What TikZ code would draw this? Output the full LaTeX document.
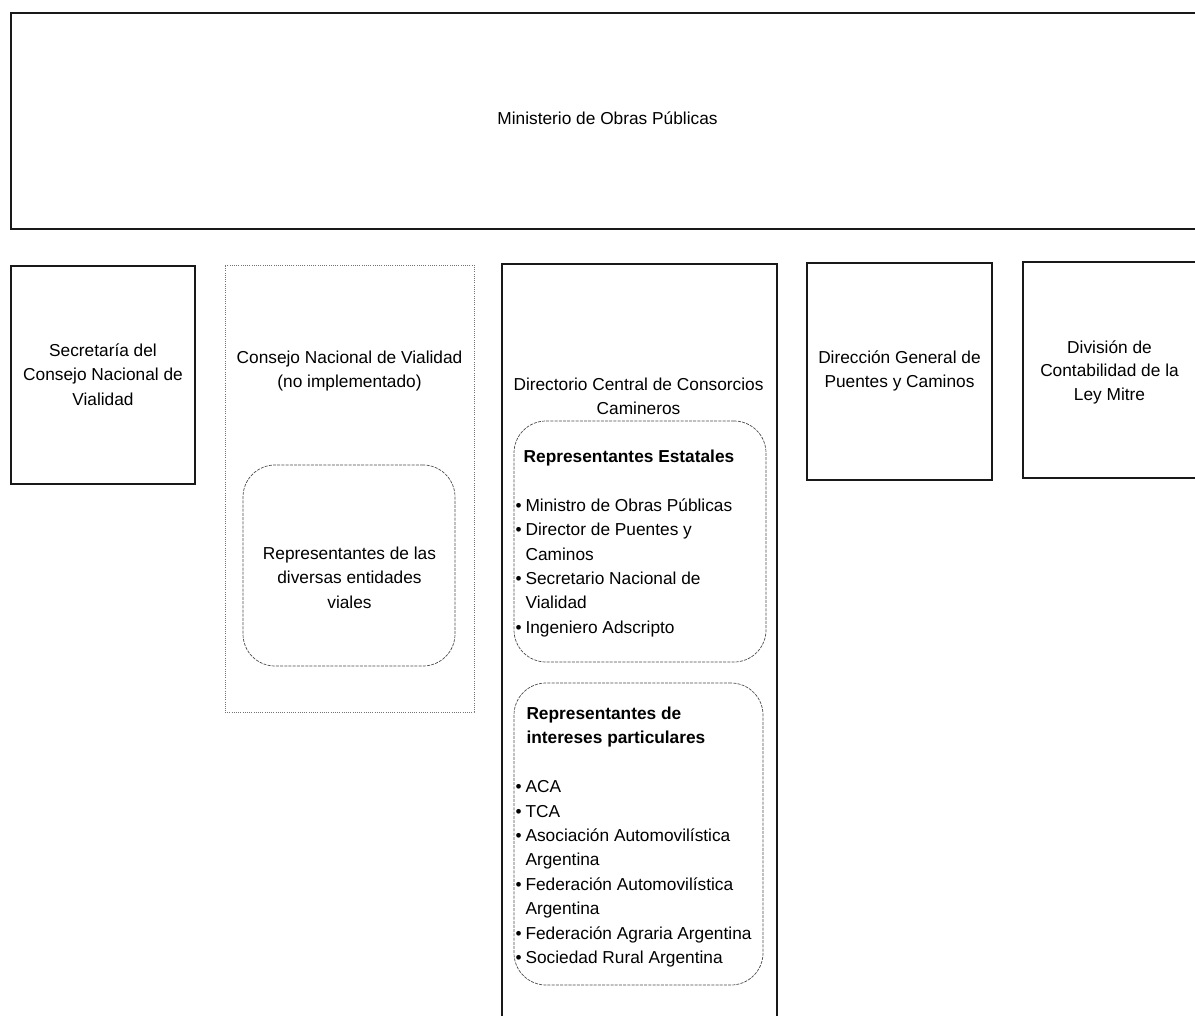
\documentclass[tikz,border=0pt]{standalone}
\usepackage{fontspec}
\setmainfont{Liberation Sans}
\newcommand{\ctab}[1]{\begin{tabular}{@{}c@{}}#1\end{tabular}}
\tikzset{
  area/.style={inner sep=0pt, outer sep=0pt},
  solidline/.style={draw=black!90, line width=1.1pt},
  solidbox/.style={area, solidline},
  dotbox/.style={area, draw=black!55, line width=0.6pt, dash pattern=on 1pt off 1.2pt},
  roundbox/.style={area, draw=black!70, line width=0.7pt, dash pattern=on 3pt off 1.2pt, rounded corners=32pt},
  txt/.style={inner sep=0pt, outer sep=0pt, anchor=north, font=\fontsize{17.3}{24.4}\selectfont},
  lst/.style={txt, anchor=north west}
}
\begin{document}
\begin{tikzpicture}[x=1pt, y=-1pt]
\useasboundingbox (0,0) rectangle (1195,1016);
% Ministerio (open on the right)
\node[area, minimum width=1184pt, minimum height=216pt] (mop) at (603,121) {};
\draw[solidline] (mop.north east) -- (mop.north west) -- (mop.south west) -- (mop.south east);
\node[txt] (mopt) at (607.5,107.4) {\ctab{Ministerio de Obras Públicas}};
% Secretaria
\node[solidbox, minimum width=184pt, minimum height=218pt] (sec) at (103,375) {};
\node[txt] (sect) at (103,339.4) {\ctab{Secretaría del\\Consejo Nacional de\\Vialidad}};
% Consejo
\node[dotbox, minimum width=249pt, minimum height=447pt] (cnv) at (349.5,488.5) {};
\node[txt] (cnvt) at (349.5,346.4) {\ctab{Consejo Nacional de Vialidad\\(no implementado)}};
\node[roundbox, minimum width=212pt, minimum height=201pt] (cnvin) at (349,565.5) {};
\node[txt] (cnvint) at (349.5,542.4) {\ctab{Representantes de las\\diversas entidades\\viales}};
% Directorio (open at the bottom)
\node[area, minimum width=275pt, minimum height=752pt] (dir) at (639.5,640) {};
\draw[solidline] (dir.south west) -- (dir.north west) -- (dir.north east) -- (dir.south east);
\node[txt] (dirt) at (638.5,373.4) {\ctab{Directorio Central de Consorcios\\Camineros}};
\node[roundbox, minimum width=252pt, minimum height=241pt] (est) at (640,541.5) {};
\node[lst] (estt) at (515.5,445.4) {\begin{tabular}{@{}l@{\hspace{4pt}}l@{}}
\multicolumn{2}{@{\hspace{8.2pt}}l@{}}{\bfseries Representantes Estatales}\\
&\\
•&Ministro de Obras Públicas\\
•&Director de Puentes y\\
&Caminos\\
•&Secretario Nacional de\\
&Vialidad\\
•&Ingeniero Adscripto
\end{tabular}};
\node[roundbox, minimum width=249pt, minimum height=302pt] (par) at (638.5,834) {};
\node[lst] (part) at (515.5,702.4) {\begin{tabular}{@{}l@{\hspace{4pt}}l@{}}
\multicolumn{2}{@{\hspace{11pt}}l@{}}{\bfseries Representantes de}\\
\multicolumn{2}{@{\hspace{11pt}}l@{}}{\bfseries intereses particulares}\\
&\\
•&ACA\\
•&TCA\\
•&Asociación Automovilística\\
&Argentina\\
•&Federación Automovilística\\
&Argentina\\
•&Federación Agraria Argentina\\
•&Sociedad Rural Argentina
\end{tabular}};
% Direccion General
\node[solidbox, minimum width=185pt, minimum height=217pt] (dg) at (899.5,371.5) {};
\node[txt] (dgt) at (899.5,346.4) {\ctab{Dirección General de\\Puentes y Caminos}};
% Division (open on the right)
\node[area, minimum width=172pt, minimum height=216pt] (div) at (1109,370) {};
\draw[solidline] (div.north east) -- (div.north west) -- (div.south west) -- (div.south east);
\node[txt] (divt) at (1109.5,336.4) {\begin{tabular}{@{}c@{}}División de\\[-0.9pt]Contabilidad de la\\[-0.9pt]Ley Mitre\end{tabular}};
\end{tikzpicture}
\end{document}
